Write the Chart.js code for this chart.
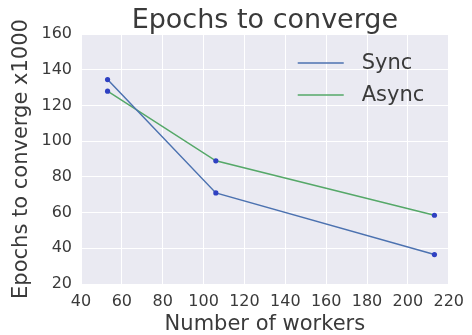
<!DOCTYPE html>
<html><head><meta charset="utf-8">
<script src="https://cdn.jsdelivr.net/npm/chart.js@4/dist/chart.umd.min.js"></script>
<style>html,body{margin:0;padding:0;background:#fff}#wrap{width:472px;height:335px}</style>
</head><body><div id="wrap"><canvas id="c" width="472" height="335"></canvas></div>
<script>
const workers = [53, 106, 213];
const syncEpochs = [134.5, 71, 36.5];
const asyncEpochs = [128, 89, 58.5];
const seriesNames = ['Sync', 'Async'];
const chartTitle = 'Epochs to converge';
const xLabel = 'Number of workers';
const yLabel = 'Epochs to converge x1000';

const FONT = "'DejaVu Sans', sans-serif";
const TEXT = '#3a3a3a';
const markerColor = '#2f41c2';

const bgPlugin = {
  id: 'bg',
  beforeDraw(chart) {
    const {ctx, chartArea: a} = chart;
    ctx.save();
    ctx.fillStyle = '#EAEAF2';
    ctx.fillRect(a.left, a.top, a.right - a.left, a.bottom - a.top);
    ctx.restore();
  },
  afterDraw(chart) {
    const {ctx, chartArea: a} = chart;
    ctx.save();
    ctx.fillStyle = TEXT;
    ctx.font = '27px ' + FONT;
    ctx.textAlign = 'center';
    ctx.textBaseline = 'alphabetic';
    ctx.fillText(chartTitle, (a.left + a.right) / 2, 28);
    // legend
    ctx.font = '21px ' + FONT;
    ctx.textAlign = 'left';
    ctx.textBaseline = 'middle';
    chart.data.datasets.forEach((ds, i) => {
      const y = a.top + 29 + i * 32;
      ctx.strokeStyle = ds.borderColor;
      ctx.lineWidth = 1.6;
      ctx.beginPath();
      ctx.moveTo(a.right - 151, y);
      ctx.lineTo(a.right - 105, y);
      ctx.stroke();
      ctx.fillStyle = TEXT;
      ctx.fillText(ds.label, a.right - 87, y + 1);
    });
    ctx.restore();
  }
};

new Chart(document.getElementById('c'), {
  type: 'line',
  data: {
    datasets: [
      { label: seriesNames[0], data: workers.map((x, i) => ({x, y: syncEpochs[i]})),
        borderColor: '#4C72B0', borderWidth: 1.5, pointRadius: 2.6, pointBorderWidth: 0,
        pointBackgroundColor: markerColor, tension: 0 },
      { label: seriesNames[1], data: workers.map((x, i) => ({x, y: asyncEpochs[i]})),
        borderColor: '#55A868', borderWidth: 1.5, pointRadius: 2.6, pointBorderWidth: 0,
        pointBackgroundColor: markerColor, tension: 0 }
    ]
  },
  options: {
    responsive: false,
    animation: false,
    layout: { padding: { top: 34, right: 17, left: 0, bottom: 0 } },
    plugins: { legend: { display: false }, title: { display: false }, tooltip: { enabled: false } },
    scales: {
      x: {
        type: 'linear', min: 40, max: 220,
        ticks: { stepSize: 20, color: TEXT, font: { family: FONT, size: 16 }, padding: 8, maxRotation: 0 },
        grid: { color: '#ffffff', lineWidth: 1, drawTicks: false },
        border: { display: false },
        title: { display: true, text: xLabel, color: TEXT, font: { family: FONT, size: 21, lineHeight: 1 }, padding: { top: 0, bottom: 0 } },
        afterFit(s) { s.height = 51; }
      },
      y: {
        min: 20, max: 160,
        ticks: { stepSize: 20, color: TEXT, font: { family: FONT, size: 16 }, padding: 9 },
        grid: { color: '#ffffff', lineWidth: 1, drawTicks: false },
        border: { display: false },
        title: { display: true, text: yLabel, color: TEXT, font: { family: FONT, size: 21, lineHeight: 1 }, padding: { top: 11, bottom: 0 } },
        afterFit(s) { s.width = 81; }
      }
    }
  },
  plugins: [bgPlugin]
});
</script></body></html>
